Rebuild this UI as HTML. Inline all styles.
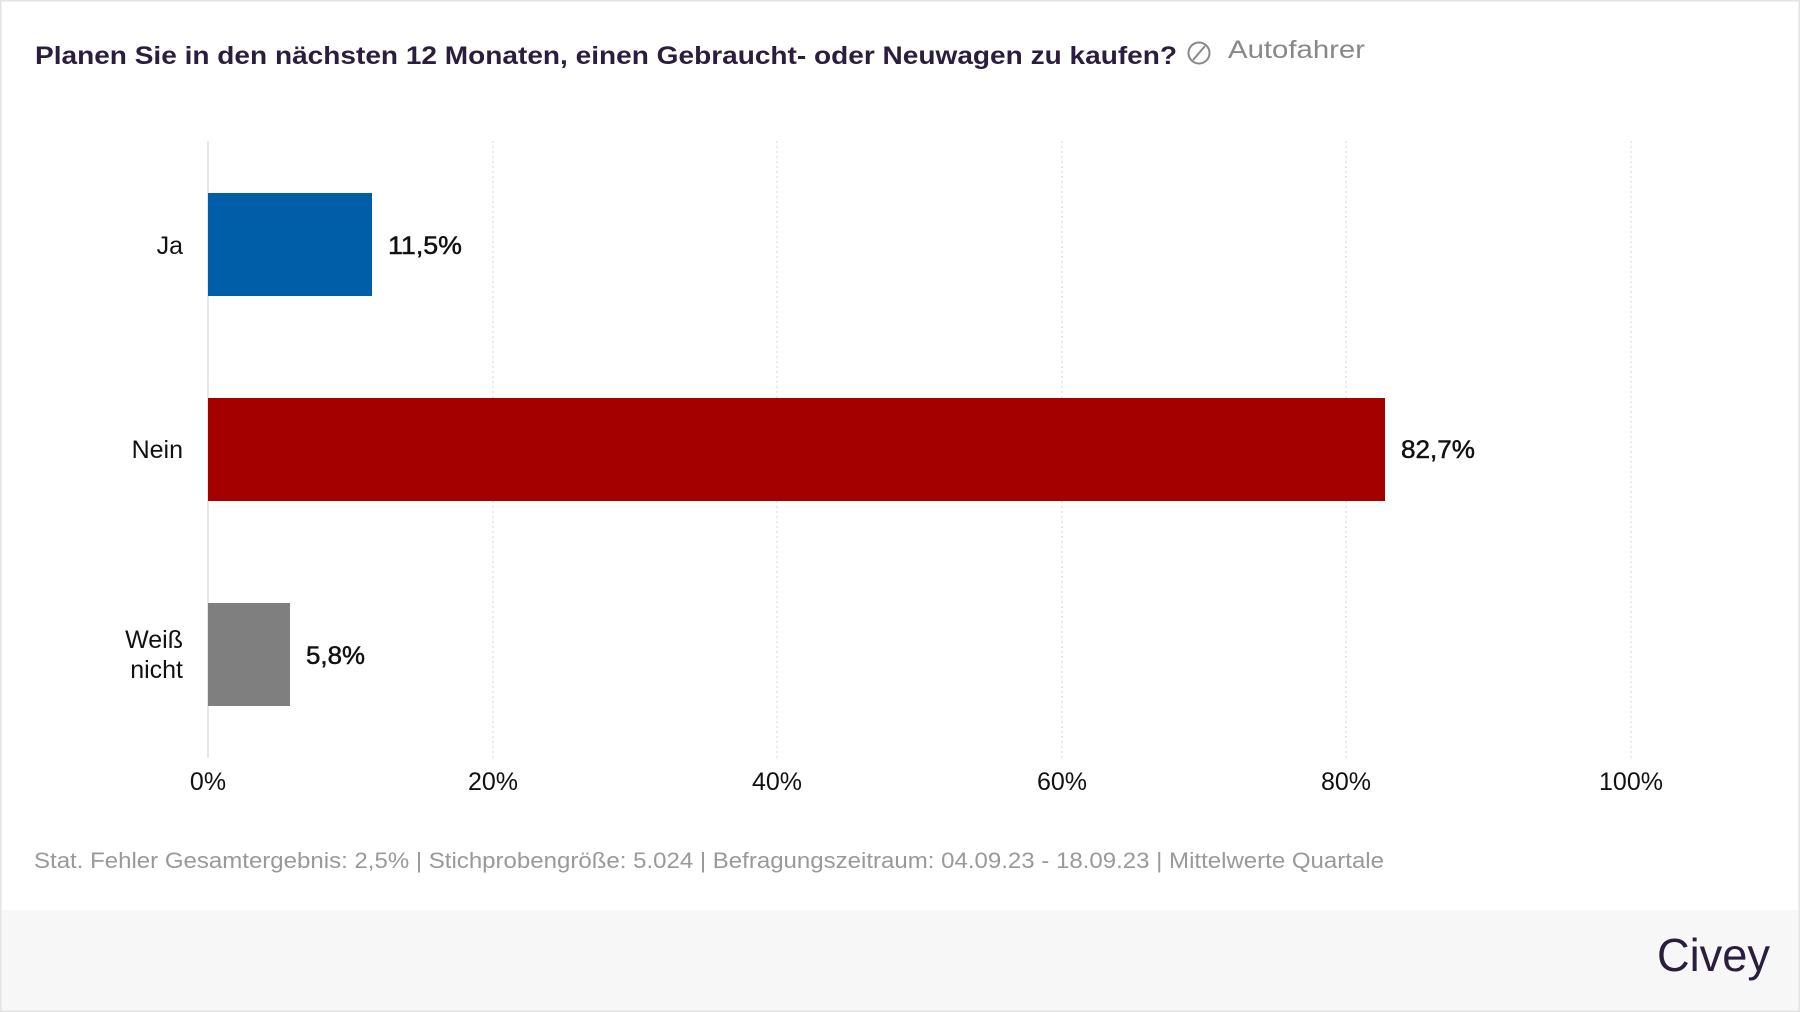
<!DOCTYPE html>
<html><head><meta charset="utf-8"><style>
html,body{margin:0;padding:0;background:#fff;}
svg{display:block;}
</style></head><body>
<svg width="1800" height="1012" viewBox="0 0 1800 1012" xmlns="http://www.w3.org/2000/svg" font-family="Liberation Sans, DejaVu Sans, sans-serif">
<rect x="0" y="0" width="1800" height="1012" fill="#fff"/>
<rect x="0" y="910" width="1800" height="101" fill="#f7f7f7"/>
<rect x="0.5" y="0.5" width="1799" height="1011" fill="none" stroke="#e3e3e3" stroke-width="2"/>
<text x="35" y="64" font-size="25" font-weight="bold" fill="#2b1d3d" textLength="1142" lengthAdjust="spacingAndGlyphs">Planen Sie in den nächsten 12 Monaten, einen Gebraucht- oder Neuwagen zu kaufen?</text>
<circle cx="1199" cy="53" r="10.5" fill="none" stroke="#888" stroke-width="2"/>
<line x1="1193" y1="60" x2="1205" y2="46" stroke="#888" stroke-width="2"/>
<text x="1228" y="58" font-size="25" fill="#888" textLength="137" lengthAdjust="spacingAndGlyphs">Autofahrer</text>
<g stroke="#ddd" stroke-width="1.2" stroke-dasharray="2,3">
<line x1="493" y1="141" x2="493" y2="758"/>
<line x1="777" y1="141" x2="777" y2="758"/>
<line x1="1062" y1="141" x2="1062" y2="758"/>
<line x1="1346" y1="141" x2="1346" y2="758"/>
<line x1="1631" y1="141" x2="1631" y2="758"/>
</g>
<line x1="208" y1="141" x2="208" y2="758" stroke="#ddd" stroke-width="1.5"/>
<rect x="208" y="193" width="164" height="103" fill="#005ea8"/>
<rect x="208" y="398" width="1177" height="103" fill="#a50000"/>
<rect x="208" y="603" width="82" height="103" fill="#7f7f7f"/>
<g font-size="25" fill="#111" text-anchor="end">
<text x="183" y="254">Ja</text>
<text x="183" y="458">Nein</text>
<text x="183" y="648">Weiß</text>
<text x="183" y="678">nicht</text>
</g>
<g font-size="25" fill="#111" stroke="#111" stroke-width="0.5">
<text x="388" y="254" textLength="74" lengthAdjust="spacingAndGlyphs">11,5%</text>
<text x="1401" y="458" textLength="74" lengthAdjust="spacingAndGlyphs">82,7%</text>
<text x="306" y="664" textLength="59" lengthAdjust="spacingAndGlyphs">5,8%</text>
</g>
<g font-size="25" fill="#111" text-anchor="middle">
<text x="208" y="790">0%</text>
<text x="493" y="790">20%</text>
<text x="777" y="790">40%</text>
<text x="1062" y="790">60%</text>
<text x="1346" y="790">80%</text>
<text x="1631" y="790">100%</text>
</g>
<text x="34" y="868" font-size="22" fill="#999" textLength="1350" lengthAdjust="spacingAndGlyphs">Stat. Fehler Gesamtergebnis: 2,5% | Stichprobengröße: 5.024 | Befragungszeitraum: 04.09.23 - 18.09.23 | Mittelwerte Quartale</text>
<text x="1770" y="971" font-size="46" fill="#2b1d3d" text-anchor="end" textLength="113" lengthAdjust="spacingAndGlyphs">Civey</text>
</svg>
</body></html>
